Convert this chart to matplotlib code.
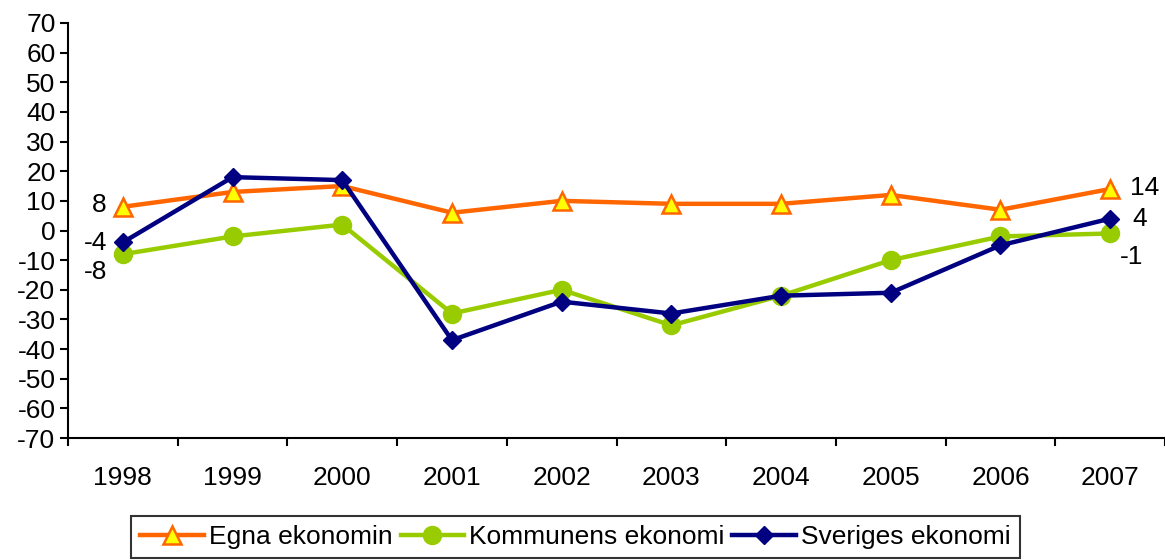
import matplotlib
matplotlib.use("Agg")
import matplotlib.pyplot as plt
import numpy as np

plt.rcParams['font.family'] = ['Liberation Sans', 'DejaVu Sans']

years = ['1998', '1999', '2000', '2001', '2002', '2003', '2004', '2005', '2006', '2007']
egna = [8, 13, 15, 6, 10, 9, 9, 12, 7, 14]
kommunens = [-8, -2, 2, -28, -20, -32, -22, -10, -2, -1]
sveriges = [-4, 18, 17, -37, -24, -28, -22, -21, -5, 4]
yticks = list(range(-70, 71, 10))

fig = plt.figure(figsize=(11.65, 5.6), dpi=100)
ax = fig.add_axes([68/1165, (560-438)/560, (1165-68)/1165, (438-23)/560])

x = np.arange(len(years))
l1, = ax.plot(x, egna, color='#FF6600', lw=3.2, marker='^', ms=13,
              markerfacecolor='#FFFF00', markeredgecolor='#FF6600', mew=1.8,
              label='Egna ekonomin', zorder=3)
l2, = ax.plot(x, kommunens, color='#99CC00', lw=3.2, marker='o', ms=13,
              markerfacecolor='#99CC00', markeredgecolor='#99CC00',
              label='Kommunens ekonomi', zorder=3)
l3, = ax.plot(x, sveriges, color='#000080', lw=3.2, marker='D', ms=9,
              markerfacecolor='#000080', markeredgecolor='#000080',
              label='Sveriges ekonomi', zorder=4)

ax.set_xlim(-0.5, len(years) - 0.5)
ax.set_ylim(-70, 70)
ax.set_yticks(yticks)
ax.set_yticklabels([str(v) for v in yticks])
ax.set_xticks(x)
ax.set_xticklabels(years)
ax.set_xticks(np.arange(-0.5, len(years) + 0.5, 1), minor=True)
fs = 19
ax.tick_params(axis='x', which='major', length=0, pad=20, labelsize=fs)
ax.tick_params(axis='x', which='minor', length=6, width=1.5, direction='out')
ax.tick_params(axis='y', which='major', length=6, width=1.5, direction='out', pad=3, labelsize=fs)

for s in ['top', 'right']:
    ax.spines[s].set_visible(False)
for s in ['left', 'bottom']:
    ax.spines[s].set_linewidth(1.5)

# labels for first and last points
ax.annotate(str(egna[0]), (x[0], egna[0]), xytext=(-16, 2), textcoords='offset pixels',
            ha='right', va='center', fontsize=fs)
ax.annotate(str(sveriges[0]), (x[0], sveriges[0]), xytext=(-16, -1), textcoords='offset pixels',
            ha='right', va='center', fontsize=fs)
ax.annotate(str(kommunens[0]), (x[0], kommunens[0]), xytext=(-16, -18), textcoords='offset pixels',
            ha='right', va='center', fontsize=fs)
ax.annotate(str(egna[-1]), (x[-1], egna[-1]), xytext=(20, 1), textcoords='offset pixels',
            ha='left', va='center', fontsize=fs, annotation_clip=False)
ax.annotate(str(sveriges[-1]), (x[-1], sveriges[-1]), xytext=(22, 0), textcoords='offset pixels',
            ha='left', va='center', fontsize=fs, annotation_clip=False)
ax.annotate(str(kommunens[-1]), (x[-1], kommunens[-1]), xytext=(10, -24), textcoords='offset pixels',
            ha='left', va='center', fontsize=fs, annotation_clip=False)

leg = fig.legend(handles=[l1, l2, l3], loc='upper center', bbox_to_anchor=(0.494, (560-516)/560),
                 ncol=3, fontsize=fs, frameon=True, fancybox=False, handlelength=2.4,
                 handletextpad=0.2, columnspacing=0.3, borderpad=0.35, borderaxespad=0)
leg.get_frame().set_edgecolor('black')
leg.get_frame().set_linewidth(1.5)

fig.savefig('out.png', dpi=100)
